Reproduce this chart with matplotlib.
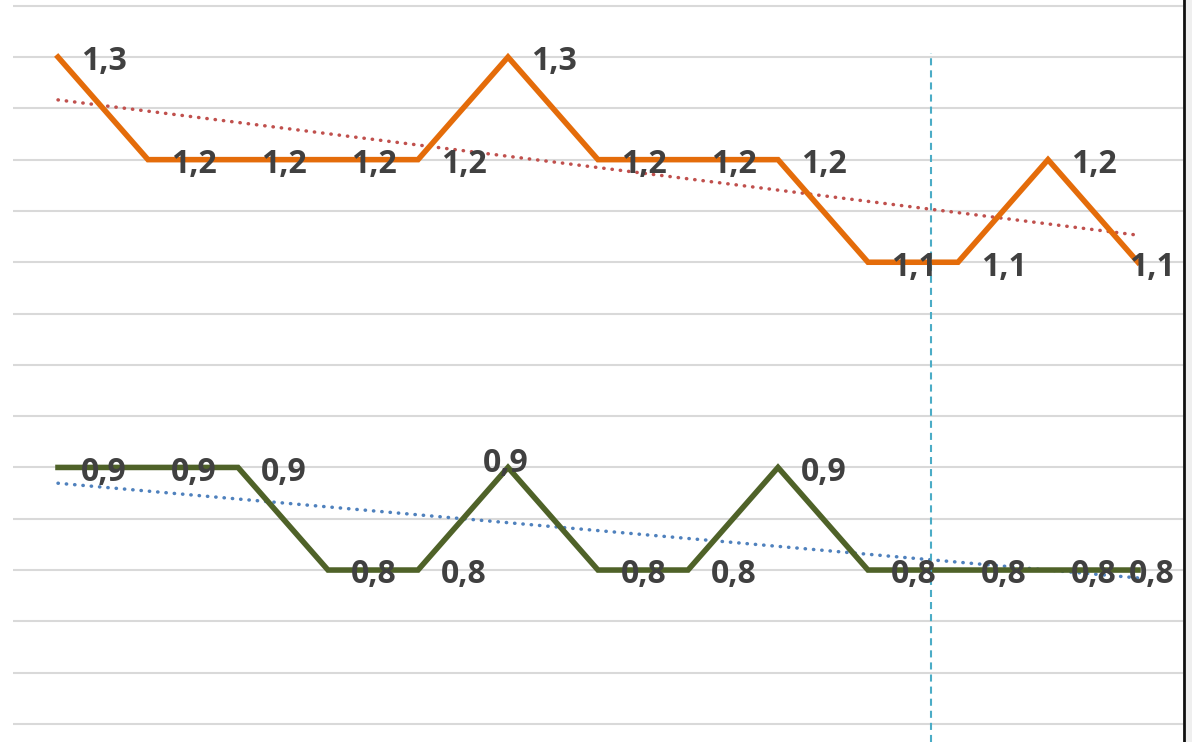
import numpy as np
import matplotlib
matplotlib.use("Agg")
import matplotlib.pyplot as plt
from matplotlib.patches import Rectangle
from matplotlib.lines import Line2D

# ---- data ----
categories = list(range(13))
series_orange = [1.3, 1.2, 1.2, 1.2, 1.2, 1.3, 1.2, 1.2, 1.2, 1.1, 1.1, 1.2, 1.1]
series_green = [0.9, 0.9, 0.9, 0.8, 0.8, 0.9, 0.8, 0.8, 0.9, 0.8, 0.8, 0.8, 0.8]
marker_x = 9.7
marker_top = 1.304
grid_ticks = [round(0.65 + 0.05 * i, 2) for i in range(15)]

W, H = 1192, 742
fig = plt.figure(figsize=(W / 100, H / 100), dpi=100)
fig.patch.set_facecolor("white")
ax = fig.add_axes([13 / W, 0, (1183 - 13) / W, 1])
ax.set_facecolor("white")

x = np.array(categories, dtype=float)
ax.set_xlim(-0.5, 12.5)
ax.set_ylim(0.6324, 1.3556)

for g in grid_ticks:
    ax.axhline(g, color="#d9d9d9", lw=1.5, zorder=1)

# trendlines
for ys, col in [(series_orange, "#C0504D"), (series_green, "#4F81BD")]:
    k, b = np.polyfit(x, ys, 1)
    ax.plot([x[0], x[-1]], [k * x[0] + b, k * x[-1] + b], color=col, lw=2.5,
            linestyle=(0, (0.1, 2.3)), dash_capstyle="round", zorder=2)

ax.plot(x, series_orange, color="#E46C0A", lw=4.0, solid_joinstyle="miter", zorder=3)
ax.plot(x, series_green, color="#4F6228", lw=4.0, solid_joinstyle="miter", zorder=3)

# vertical dashed marker
ax.plot([marker_x, marker_x], [0.6324, marker_top], color="#4BACC6", lw=1.5,
        linestyle=(0, (3.4, 2.4)), zorder=4)

def fmt(v):
    return f"{v:.1f}".replace(".", ",")

font = dict(family=["Open Sans", "DejaVu Sans"], fontsize=23, fontweight="bold",
            color="#404040")

for series, name in [(series_orange, "o"), (series_green, "g")]:
    n = len(series)
    for i, v in enumerate(series):
        if name == "g" and i == 5:
            ax.annotate(fmt(v), (x[i], v), xytext=(-1.5, 3.0), textcoords="offset points",
                        ha="center", va="center", zorder=5, **font)
            continue
        dx = 16.5 if i < n - 1 else -6.5
        ax.annotate(fmt(v), (x[i], v), xytext=(dx, -3.5), textcoords="offset points",
                    ha="left", va="center", zorder=5, **font)

ax.set_xticks([])
ax.set_yticks([])
for s in ax.spines.values():
    s.set_visible(False)

# right border and gray strip
fig.add_artist(Line2D([1184 / W, 1184 / W], [0, 1], color="#111111", lw=2.0,
                      transform=fig.transFigure))
fig.add_artist(Rectangle((1185.5 / W, 0), (W - 1185.5) / W, 1, facecolor="#efefef",
                         edgecolor="none", transform=fig.transFigure))

fig.savefig("out.png", dpi=100)
